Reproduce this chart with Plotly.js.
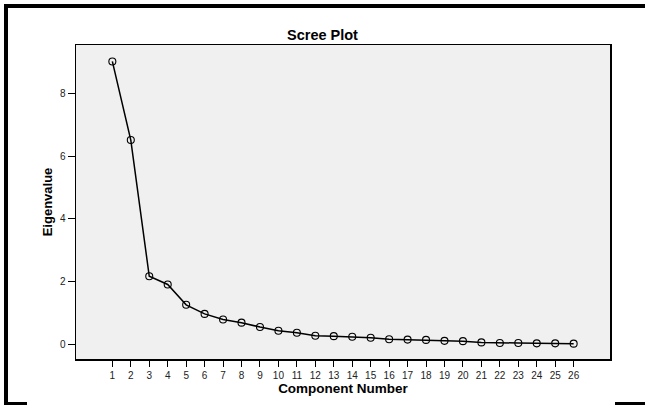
<!DOCTYPE html>
<html>
<head>
<meta charset="utf-8">
<script src="https://cdn.plot.ly/plotly-3.0.1.min.js"></script>
<style>
html,body{margin:0;padding:0;background:#fff;}
#wrap{position:relative;width:645px;height:405px;overflow:hidden;}
#chart{position:absolute;left:0;top:0;width:645px;height:405px;}
.b{position:absolute;background:#000;pointer-events:none;}
</style>
</head>
<body>
<div id="wrap">
<div id="chart"></div>
<div class="b" style="left:4px;top:4px;width:641px;height:4px;"></div>
<div class="b" style="left:4px;top:4px;width:4px;height:401px;"></div>
<div class="b" style="left:4px;top:402px;width:23px;height:3px;"></div>
<div class="b" style="left:615px;top:402px;width:30px;height:3px;"></div>
</div>
<script>
const components = [1,2,3,4,5,6,7,8,9,10,11,12,13,14,15,16,17,18,19,20,21,22,23,24,25,26];
const eigenvalues = [9.03,6.52,2.17,1.91,1.26,0.97,0.79,0.69,0.55,0.43,0.37,0.27,0.26,0.24,0.21,0.16,0.15,0.14,0.11,0.10,0.06,0.04,0.04,0.03,0.03,0.02];
const yTicks = [0,2,4,6,8];

const font = "'Liberation Sans', Arial, sans-serif";
const trace = {
  x: components, y: eigenvalues, type: 'scatter', mode: 'lines+markers',
  line: {color: '#000', width: 1.5},
  marker: {symbol: 'circle-open', size: 7, color: '#000', line: {width: 1.1, color: '#000'}},
  hoverinfo: 'x+y'
};
const layout = {
  width: 645, height: 405,
  margin: {l: 76, r: 35, t: 45, b: 46},
  paper_bgcolor: 'rgba(0,0,0,0)', plot_bgcolor: '#f0f0f0',
  showlegend: false,
  font: {family: font, size: 10, color: '#222'},
  title: {text: '<b>Scree Plot</b>', x: 0.5, xref: 'container', xanchor: 'center', y: 1 - 35/405, yref: 'container', yanchor: 'middle', font: {family: font, size: 14.5, color: '#000'}},
  xaxis: {
    range: [-0.97, 27.97], tickmode: 'array', tickvals: components, ticktext: components.map(String),
    ticks: 'outside', ticklen: 6, tickwidth: 1, tickcolor: '#000',
    showgrid: false, zeroline: false, showline: true, linecolor: '#000', linewidth: 1.5, mirror: true,
    tickfont: {family: font, size: 10, color: '#222'},
    title: {text: '<b>Component Number</b>', standoff: 4, font: {family: font, size: 13.5, color: '#000'}}
  },
  yaxis: {
    range: [-0.47, 9.555], tickmode: 'array', tickvals: yTicks, ticktext: yTicks.map(String),
    ticks: 'outside', ticklen: 7, tickwidth: 1, tickcolor: '#000',
    showgrid: false, zeroline: false, showline: true, linecolor: '#000', linewidth: 1.5, mirror: true,
    tickfont: {family: font, size: 10, color: '#222'},
    title: {text: '<b>Eigenvalue</b>', standoff: 4, font: {family: font, size: 13, color: '#000'}}
  }
};
Plotly.newPlot('chart', [trace], layout, {displayModeBar: false, staticPlot: true});
</script>
</body>
</html>
